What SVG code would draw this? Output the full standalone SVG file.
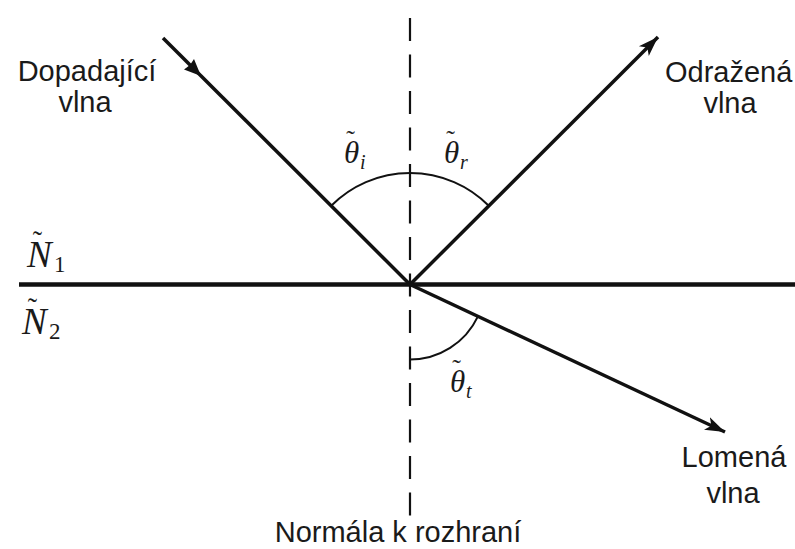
<svg xmlns="http://www.w3.org/2000/svg" width="795" height="549" viewBox="0 0 795 549">
  <defs>
    <marker id="arrow" markerUnits="userSpaceOnUse" markerWidth="24" markerHeight="16" refX="20" refY="8" orient="auto">
      <path d="M0,1 L20,8 L0,15 L5,8 Z" fill="#111"/>
    </marker>
  </defs>
  <style>
    .lbl { font-family: "Liberation Sans", Arial, sans-serif; font-size: 29px; fill: #1a1a1a; }
    .math { font-family: "Liberation Serif", "Times New Roman", serif; font-style: italic; fill: #1a1a1a; }
    .up { font-style: normal; }
    .ray { stroke: #111; stroke-width: 3.5; fill: none; stroke-linecap: butt; }
    .arc { stroke: #111; stroke-width: 2; fill: none; }
  </style>
  <rect width="795" height="549" fill="#ffffff"/>

  <g id="connectors">
    <line id="normal" x1="410" y1="18" x2="410" y2="516" stroke="#111" stroke-width="2.2" stroke-dasharray="23 13.5"/>
    <line id="interface" x1="19" y1="284.5" x2="795" y2="284.5" stroke="#111" stroke-width="4.5"/>
    <line id="incident" class="ray" x1="163" y1="38" x2="410" y2="284.5"/>
    <path id="incident-arrow" d="M201,76 L184,69.5 L190,65 L194,59 Z" fill="#111"/>
    <line id="reflected" class="ray" x1="410" y1="284.5" x2="658" y2="37" marker-end="url(#arrow)"/>
    <line id="refracted" class="ray" x1="410" y1="284.5" x2="725" y2="432" marker-end="url(#arrow)"/>
    <path id="arc-ir" class="arc" d="M331.5,205.5 A111,111 0 0 1 488.5,205.5"/>
    <path id="arc-t" class="arc" d="M410,359.5 A75,75 0 0 0 477.8,316.6"/>
  </g>

  <g id="label-incident">
    <text class="lbl" x="87" y="81" text-anchor="middle">Dopadající</text>
    <text class="lbl" x="85" y="112" text-anchor="middle">vlna</text>
  </g>
  <g id="label-reflected">
    <text class="lbl" x="665" y="82">Odražená</text>
    <text class="lbl" x="730" y="113" text-anchor="middle">vlna</text>
  </g>
  <g id="label-refracted">
    <text class="lbl" x="734" y="467" text-anchor="middle">Lomená</text>
    <text class="lbl" x="733" y="503" text-anchor="middle">vlna</text>
  </g>
  <g id="label-normal">
    <text class="lbl" x="398" y="542" text-anchor="middle" font-size="27.5">Normála k rozhraní</text>
  </g>

  <g id="theta-i">
    <text class="math" x="344" y="163" font-size="31">θ<tspan dx="-13" dy="-15" font-size="26" class="up">˜</tspan><tspan dx="5" dy="21" font-size="20">i</tspan></text>
  </g>
  <g id="theta-r">
    <text class="math" x="444" y="163" font-size="31">θ<tspan dx="-13" dy="-15" font-size="26" class="up">˜</tspan><tspan dx="5" dy="21" font-size="20">r</tspan></text>
  </g>
  <g id="theta-t">
    <text class="math" x="450" y="392" font-size="31">θ<tspan dx="-13" dy="-15" font-size="26" class="up">˜</tspan><tspan dx="5" dy="21" font-size="20">t</tspan></text>
  </g>
  <g id="N1">
    <text class="math" x="27" y="267" font-size="37">N<tspan dx="-19" dy="-17" font-size="28" class="up">˜</tspan><tspan dx="12" dy="22" font-size="23" class="up">1</tspan></text>
  </g>
  <g id="N2">
    <text class="math" x="22" y="334" font-size="37">N<tspan dx="-19" dy="-17" font-size="28" class="up">˜</tspan><tspan dx="12" dy="22" font-size="23" class="up">2</tspan></text>
  </g>
</svg>
